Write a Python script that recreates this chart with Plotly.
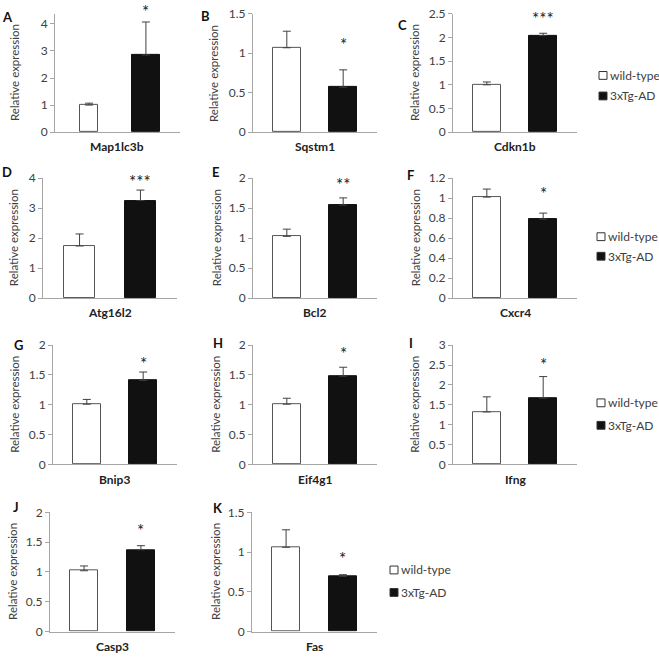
import plotly.graph_objects as go

W, H = 659, 662

# ---- data ----
panel_letters = ["A", "B", "C", "D", "E", "F", "G", "H", "I", "J", "K"]
genes = ["Map1lc3b", "Sqstm1", "Cdkn1b", "Atg16l2", "Bcl2", "Cxcr4",
         "Bnip3", "Eif4g1", "Ifng", "Casp3", "Fas"]
groups = ["wild-type", "3xTg-AD"]
wt_mean = [1.00, 1.07, 1.00, 1.74, 1.03, 1.01, 1.01, 1.01, 1.32, 1.02, 1.06]
wt_err = [0.07, 0.21, 0.06, 0.40, 0.12, 0.08, 0.08, 0.10, 0.38, 0.08, 0.22]
tg_mean = [2.85, 0.57, 2.04, 3.25, 1.55, 0.79, 1.41, 1.48, 1.67, 1.37, 0.695]
tg_err = [1.22, 0.22, 0.05, 0.35, 0.12, 0.06, 0.14, 0.15, 0.54, 0.07, 0.02]
sig = ["*", "*", "***", "***", "**", "*", "*", "*", "*", "*", "*"]
star_y = [4.47, 1.11, 2.41, 3.88, 1.90, 1.05, 1.70, 1.86, 2.51, 1.69, 0.92]
y_max = [4.37, 1.5, 2.5, 4, 2, 1.2, 2, 2, 3, 2, 1.5]
y_dtick = [1, 0.5, 0.5, 1, 0.5, 0.2, 0.5, 0.5, 0.5, 0.5, 0.5]

# ---- layout in pixels ----
x_left = [55, 253, 453, 43, 253, 453, 53, 253, 453, 50, 252]
x_right = [180, 377, 577, 177, 377, 577, 177, 377, 577, 175, 377]
row_of = [0, 0, 0, 1, 1, 1, 2, 2, 2, 3, 3]
row_bottom = [127, 297, 467, 638]
row_top = [6, 174, 345, 516]
title_x = [15, 214, 415, 13, 216, 415, 15, 216, 415, 13, 216]
letter_pos = [(7, 9), (205, 8), (402, 17), (7, 168), (215, 168), (410, 171),
              (18, 345), (218, 343), (411, 343), (16, 511), (218, 512)]
# legend: (box left, wild-type y, 3xTg-AD y)
legend_pos = [(599, 69, 90), (597, 234, 254), (597, 404, 427), (390, 575, 598)]

FONT = "Lato"
px = lambda x: x / W
py = lambda y: 1 - y / H

fig = go.Figure()
annotations = []
shapes = []
layout = {}

for i, gene in enumerate(genes):
    n = "" if i == 0 else str(i + 1)
    xa, ya = "x" + n, "y" + n
    r = row_of[i]
    wt_width = 0.32 if i == 0 else 0.5
    fig.add_trace(go.Bar(
        x=[0], y=[wt_mean[i]], width=[wt_width], xaxis=xa, yaxis=ya,
        marker=dict(color="white", line=dict(color="#555555", width=1)),
        error_y=dict(type="data", symmetric=False, array=[wt_err[i]], arrayminus=[0],
                     color="#404040", thickness=1, width=4),
        showlegend=False, name=groups[0]))
    fig.add_trace(go.Bar(
        x=[1], y=[tg_mean[i]], width=[0.5], xaxis=xa, yaxis=ya,
        marker=dict(color="#111111", line=dict(color="#111111", width=1)),
        error_y=dict(type="data", symmetric=False, array=[tg_err[i]], arrayminus=[0],
                     color="#404040", thickness=1, width=4),
        showlegend=False, name=groups[1]))

    y_dom = [py(row_bottom[r]), py(row_top[r])]
    layout["xaxis" + n] = dict(
        domain=[px(x_left[i]), px(x_right[i])], range=[-0.6, 1.6], anchor=ya,
        showline=True, linecolor="#a6a6a6", linewidth=1, ticks="",
        showticklabels=False, showgrid=False, zeroline=False, fixedrange=True)
    layout["yaxis" + n] = dict(
        domain=y_dom, range=[0, y_max[i]], anchor=xa,
        tick0=0, dtick=y_dtick[i], showline=True, linecolor="#a6a6a6", linewidth=1,
        ticks="outside", ticklen=4, tickcolor="#a6a6a6",
        tickfont=dict(family=FONT, size=12, color="#404040"),
        showgrid=False, zeroline=False, fixedrange=True)

    # significance stars (placed in paper space so they may sit above the axis top)
    star_paper = y_dom[0] + star_y[i] / y_max[i] * (y_dom[1] - y_dom[0])
    annotations.append(dict(x=1, y=star_paper, xref=xa, yref="paper", text=sig[i],
                            showarrow=False, yanchor="middle",
                            font=dict(family=FONT, size=17, color="#222222")))
    # gene label
    annotations.append(dict(x=0.5, y=py(row_bottom[r] + 15), xref=xa + " domain", yref="paper",
                            text="<b>" + gene + "</b>", showarrow=False, yanchor="middle",
                            font=dict(family=FONT, size=12, color="#222222")))
    # y-axis title
    annotations.append(dict(x=px(title_x[i]), y=py((row_bottom[r] + row_top[r]) / 2),
                            xref="paper", yref="paper", text="Relative expression",
                            textangle=-90, showarrow=False, xanchor="center", yanchor="middle",
                            font=dict(family=FONT, size=11.5, color="#404040")))
    # panel letter
    lx, ly = letter_pos[i]
    annotations.append(dict(x=px(lx), y=py(ly), xref="paper", yref="paper",
                            text="<b>" + panel_letters[i] + "</b>", showarrow=False,
                            xanchor="center", yanchor="middle",
                            font=dict(family=FONT, size=13, color="#111111")))

# legends beside each row
for bx, y1, y2 in legend_pos:
    for yy, fill, label in [(y1, "white", groups[0]), (y2, "#111111", groups[1])]:
        shapes.append(dict(type="rect", xref="paper", yref="paper",
                           x0=px(bx), x1=px(bx + 8), y0=py(yy - 4), y1=py(yy + 4),
                           fillcolor=fill, line=dict(color="#333333", width=1)))
        annotations.append(dict(x=px(bx + 9), y=py(yy), xref="paper", yref="paper",
                                text=label, showarrow=False, xanchor="left", yanchor="middle",
                                font=dict(family=FONT, size=12, color="#404040")))

fig.update_layout(
    width=W, height=H, margin=dict(l=0, r=0, t=0, b=0),
    paper_bgcolor="white", plot_bgcolor="white",
    showlegend=False, bargap=0, annotations=annotations, shapes=shapes,
    **layout)

fig.write_html("out.html", config={"displayModeBar": False},
               post_script="document.body.style.margin='0';")
